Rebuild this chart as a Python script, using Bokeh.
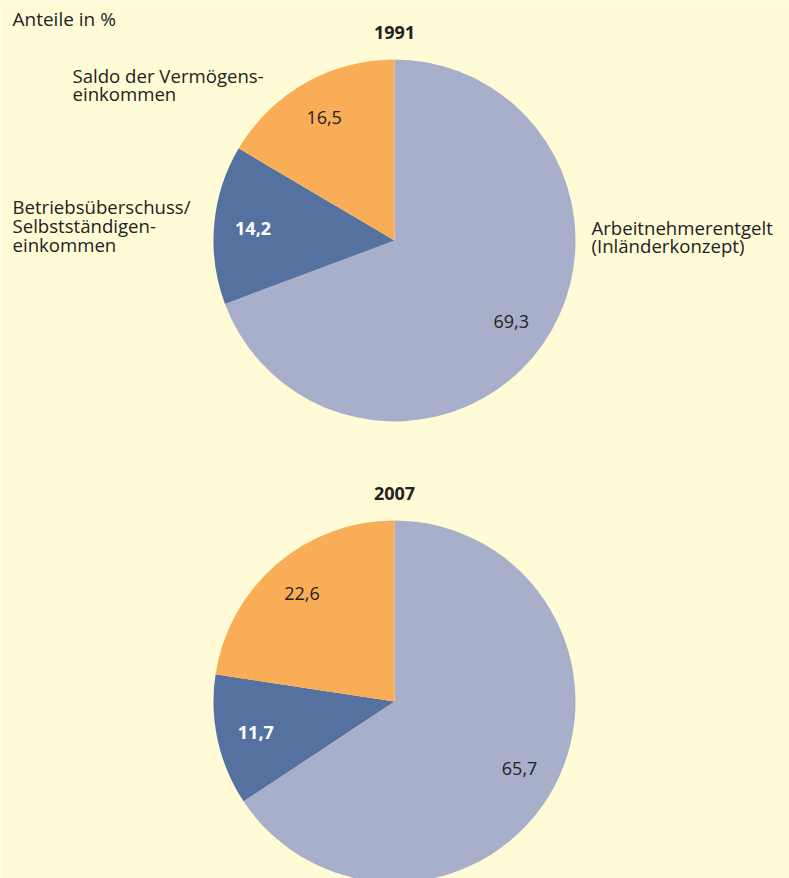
import math
from bokeh.plotting import figure
from bokeh.models import Range1d, ColumnDataSource
from bokeh.core.properties import value
from bokeh.embed import file_html
from bokeh.resources import INLINE

# ---- data ----
categories = ["Arbeitnehmerentgelt\n(Inländerkonzept)",
              "Betriebsüberschuss/\nSelbstständigen-\neinkommen",
              "Saldo der Vermögens-\neinkommen"]
years = ["1991", "2007"]
shares_1991 = [69.3, 14.2, 16.5]
shares_2007 = [65.7, 11.7, 22.6]
value_labels_1991 = ["69,3", "14,2", "16,5"]
value_labels_2007 = ["65,7", "11,7", "22,6"]
unit_label = "Anteile in %"

# ---- style ----
W, H = 789, 878
BG = "#FFFBD7"
colors = ["#A8AFCB", "#54719F", "#FAAD57"]
value_text_colors = ["#222222", "#FFFFFF", "#222222"]
value_text_styles = ["normal", "bold", "normal"]
FONT = "Open Sans"
R = 181
LABEL_R = 142

def py(y):
    return H - y

p = figure(width=W, height=H, output_backend="svg", toolbar_location=None,
           x_range=Range1d(0, W), y_range=Range1d(0, H),
           min_border=0, background_fill_color=BG, border_fill_color=BG)
p.axis.visible = False
p.grid.visible = False
p.outline_line_color = None

centers = [(394, 240), (394, 701)]
title_y = [32, 493]

for (cx, cy), shares, vlabels, yr, ty in zip(centers, [shares_1991, shares_2007],
                                             [value_labels_1991, value_labels_2007],
                                             years, title_y):
    total = sum(shares)
    # clockwise from 12 o'clock: Arbeitnehmer, Betrieb, Saldo
    # equivalently counterclockwise from 90deg: Saldo, Betrieb, Arbeitnehmer
    starts, ends = [0.0] * 3, [0.0] * 3
    a = 90.0
    for i in [2, 1, 0]:
        span = shares[i] / total * 360.0
        starts[i] = a
        ends[i] = a + span
        a += span
    src = ColumnDataSource(dict(
        x=[cx] * 3, y=[py(cy)] * 3,
        start=[math.radians(s) for s in starts],
        end=[math.radians(e) for e in ends],
        color=colors))
    p.wedge(x="x", y="y", radius=R, start_angle="start", end_angle="end",
            fill_color="color", line_color=None, source=src)

    lx, ly = [], []
    for s, e in zip(starts, ends):
        m = math.radians((s + e) / 2)
        lx.append(cx + LABEL_R * math.cos(m))
        ly.append(py(cy) + LABEL_R * math.sin(m))
    lsrc = ColumnDataSource(dict(x=lx, y=ly, t=vlabels, c=value_text_colors,
                                 st=value_text_styles))
    p.text(x="x", y="y", text="t", text_color="c", text_font_style="st",
           text_font=value(FONT), text_font_size="18px",
           text_align="center", text_baseline="middle", source=lsrc)

    p.text(x=[cx], y=[py(ty)], text=[yr], text_font=value(FONT),
           text_font_size="18px", text_font_style="bold", text_color="#222222",
           text_align="center", text_baseline="middle")

# unit label
p.text(x=[12], y=[py(18)], text=[unit_label], text_font=value(FONT),
       text_font_size="19px", text_color="#222222", text_baseline="middle")

# category labels (1991 pie), line by line
cat_pos = [(591, 227, 18), (12, 206, 19), (72, 75, 18)]
for cat, (x0, y0, lh) in zip(categories, cat_pos):
    lines = cat.split("\n")
    p.text(x=[x0] * len(lines), y=[py(y0 + i * lh) for i in range(len(lines))],
           text=lines, text_font=value(FONT), text_font_size="18.6px",
           text_color="#222222", text_baseline="middle", text_align="left")

open("out.html", "w").write(file_html(p, INLINE))
